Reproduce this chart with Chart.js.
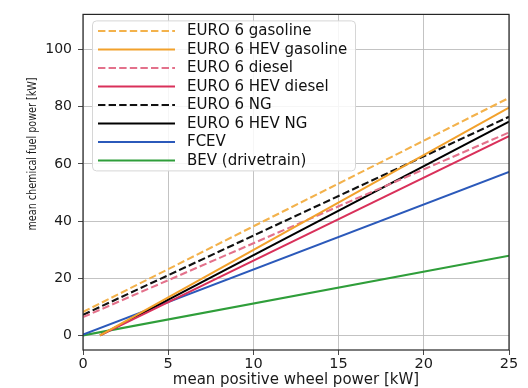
<!DOCTYPE html>
<html>
<head>
<meta charset="utf-8">
<script src="https://cdn.jsdelivr.net/npm/chart.js@4.4.1/dist/chart.umd.min.js"></script>
<style>
  html, body { margin: 0; padding: 0; background: #ffffff; }
  #wrap { width: 528px; height: 388px; }
</style>
</head>
<body>
<div id="wrap"><canvas id="chart" width="528" height="388"></canvas></div>
<script>
// Fuel power vs. wheel power, one straight segment per powertrain (kW)
const gasolineX    = [0, 25];   const gasolineY    = [8.2, 83.1];
const hevGasolineX = [1, 25];   const hevGasolineY = [0, 79.7];
const dieselX      = [0, 25];   const dieselY      = [6.4, 71.0];
const hevDieselX   = [1, 25];   const hevDieselY   = [0, 69.7];
const ngX          = [0, 25];   const ngY          = [7.2, 76.5];
const hevNgX       = [1, 25];   const hevNgY       = [0, 74.8];
const fcevX        = [0, 25];   const fcevY        = [0.3, 57.2];
const bevX         = [0, 25];   const bevY         = [0, 27.9];

const seriesLabels = [
  'EURO 6 gasoline', 'EURO 6 HEV gasoline', 'EURO 6 diesel', 'EURO 6 HEV diesel',
  'EURO 6 NG', 'EURO 6 HEV NG', 'FCEV', 'BEV (drivetrain)'
];
const xTickValues = [0, 5, 10, 15, 20, 25];
const yTickValues = [0, 20, 40, 60, 80, 100];
const yTitle = 'mean chemical fuel power [kW]';

const DASH = [7.4, 3.2];
const FONT = 'DejaVu Sans';

function points(xs, ys) {
  return xs.map((x, i) => ({ x: x, y: ys[i] }));
}

const seriesData = [
  points(gasolineX, gasolineY), points(hevGasolineX, hevGasolineY),
  points(dieselX, dieselY),     points(hevDieselX, hevDieselY),
  points(ngX, ngY),             points(hevNgX, hevNgY),
  points(fcevX, fcevY),         points(bevX, bevY)
];
const seriesStyle = [
  { color: '#f3b24c', dash: DASH },
  { color: '#f2a12c', dash: [] },
  { color: '#e3718b', dash: DASH },
  { color: '#d9305a', dash: [] },
  { color: '#111111', dash: DASH },
  { color: '#000000', dash: [] },
  { color: '#2b59ba', dash: [] },
  { color: '#2f9e3a', dash: [] }
];

const datasets = seriesLabels.map((label, i) => ({
  label: label,
  data: seriesData[i],
  borderColor: seriesStyle[i].color,
  backgroundColor: seriesStyle[i].color,
  borderDash: seriesStyle[i].dash,
  borderWidth: 2.1,
  pointRadius: 0,
  fill: false,
  tension: 0
}));

// Framed legend box in the upper-left corner of the plot area
const boxLegend = {
  id: 'boxLegend',
  afterDatasetsDraw(chart) {
    const { ctx, chartArea } = chart;
    const left = chartArea.left + 9, top = chartArea.top + 6;
    const w = 263, h = 150, r = 4, pitch = 18.5;
    ctx.save();
    ctx.beginPath();
    ctx.roundRect(left + 0.5, top + 0.5, w, h, r);
    ctx.fillStyle = 'rgba(255,255,255,0.85)';
    ctx.fill();
    ctx.strokeStyle = '#d6d6d6';
    ctx.lineWidth = 1;
    ctx.stroke();
    ctx.font = '15px "' + FONT + '"';
    ctx.textBaseline = 'middle';
    chart.data.datasets.forEach((ds, i) => {
      const y = top + 10.5 + i * pitch;
      ctx.beginPath();
      ctx.setLineDash(ds.borderDash || []);
      ctx.strokeStyle = ds.borderColor;
      ctx.lineWidth = 2;
      ctx.moveTo(left + 6, y);
      ctx.lineTo(left + 83, y);
      ctx.stroke();
      ctx.setLineDash([]);
      ctx.fillStyle = '#111111';
      ctx.fillText(ds.label, left + 95, y + 0.5);
    });
    ctx.restore();
  }
};

// Narrow rotated title for the vertical axis
const yAxisTitle = {
  id: 'yAxisTitle',
  afterDraw(chart) {
    const { ctx } = chart;
    ctx.save();
    ctx.translate(32.5, 154);
    ctx.rotate(-Math.PI / 2);
    ctx.scale(0.74, 1);
    ctx.font = '13px "' + FONT + '"';
    ctx.fillStyle = '#1a1a1a';
    ctx.textAlign = 'center';
    ctx.textBaseline = 'middle';
    ctx.fillText(yTitle, 0, 0);
    ctx.restore();
  }
};

// Axes frame on all four sides
const frame = {
  id: 'frame',
  afterDraw(chart) {
    const { ctx, chartArea: a } = chart;
    ctx.save();
    ctx.strokeStyle = '#262626';
    ctx.lineWidth = 1.2;
    ctx.strokeRect(a.left, a.top, a.right - a.left, a.bottom - a.top);
    ctx.restore();
  }
};

new Chart(document.getElementById('chart'), {
  type: 'line',
  data: { datasets: datasets },
  plugins: [boxLegend, yAxisTitle, frame],
  options: {
    responsive: false,
    animation: false,
    devicePixelRatio: 1,
    layout: { padding: { top: 7, right: 19, bottom: 0, left: 0 } },
    plugins: { legend: { display: false }, tooltip: { enabled: false } },
    scales: {
      x: {
        type: 'linear',
        min: 0, max: 25,
        afterBuildTicks(s) { s.ticks = xTickValues.map(v => ({ value: v })); },
        afterFit(s) { s.height = 38; },
        border: { display: false },
        grid: { color: '#bcbcbc', lineWidth: 0.9, tickLength: 5, tickColor: '#333333' },
        ticks: { color: '#1a1a1a', font: { family: FONT, size: 14.5 }, padding: 1, maxRotation: 0 },
        title: {
          display: true, text: 'mean positive wheel power [kW]', color: '#1a1a1a',
          font: { family: FONT, size: 15, lineHeight: 1 }, padding: { top: 0, bottom: 0 }
        }
      },
      y: {
        type: 'linear',
        min: -5.1, max: 112.3,
        afterBuildTicks(s) { s.ticks = yTickValues.map(v => ({ value: v })); },
        afterFit(s) { s.width = 83; },
        border: { display: false },
        grid: { color: '#bcbcbc', lineWidth: 0.9, tickLength: 5, tickColor: '#333333' },
        ticks: { color: '#1a1a1a', font: { family: FONT, size: 14 }, padding: 6 },
        title: { display: false }
      }
    }
  }
});
</script>
</body>
</html>
